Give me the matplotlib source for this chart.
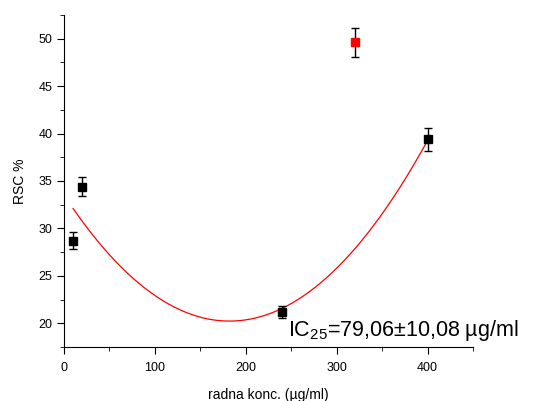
import numpy as np
import matplotlib
matplotlib.use('Agg')
from matplotlib import pyplot as plt
from matplotlib.ticker import MultipleLocator

plt.rcParams['font.family'] = ['Liberation Sans', 'DejaVu Sans']
plt.rcParams['mathtext.default'] = 'regular'

# data
conc = [10, 20, 240, 400]
rsc = [28.7, 34.4, 21.2, 39.4]
rsc_err = [0.87, 1.0, 0.6, 1.2]

out_conc = [320]
out_rsc = [49.6]
out_err = [1.5]

label_text = r"IC$_{25}$=79,06±10,08 µg/ml"

fig = plt.figure(figsize=(5.49, 4.01), dpi=100)
ax = fig.add_axes([0.1166, 0.1347, 0.745, 0.828])

# quadratic fit through the black points
coef = np.polyfit(conc, rsc, 2)
xs = np.linspace(min(conc), max(conc), 300)
ax.plot(xs, np.polyval(coef, xs), color='red', lw=0.9, zorder=2)

ax.errorbar(conc, rsc, yerr=rsc_err, fmt='s', color='black', ms=5.5,
            elinewidth=1, capsize=3, capthick=1, zorder=3)
ax.errorbar(out_conc, out_rsc, yerr=out_err, fmt='s', mfc='red', mec='red',
            ecolor='black', ms=5.5, elinewidth=1, capsize=3, capthick=1, zorder=3)

ax.set_xlim(0, 450)
ax.set_ylim(17.5, 52.5)
ax.xaxis.set_major_locator(MultipleLocator(100))
ax.xaxis.set_minor_locator(MultipleLocator(50))
ax.yaxis.set_major_locator(MultipleLocator(5))
ax.yaxis.set_minor_locator(MultipleLocator(2.5))
ax.set_yticks([20, 25, 30, 35, 40, 45, 50])

ax.spines['right'].set_visible(False)
ax.spines['top'].set_visible(False)
ax.tick_params(axis='both', which='major', direction='out', length=5, labelsize=9)
ax.tick_params(axis='x', which='major', pad=6)
ax.tick_params(axis='both', which='minor', direction='out', length=3)

ax.set_xlabel('radna konc. (µg/ml)', fontsize=10, labelpad=10)
ax.set_ylabel('RSC %', fontsize=10, labelpad=8)

ax.text(246, 18.7, label_text, fontsize=15.5, va='baseline', ha='left',
        clip_on=False, zorder=4)

fig.savefig('out.png', dpi=100)
